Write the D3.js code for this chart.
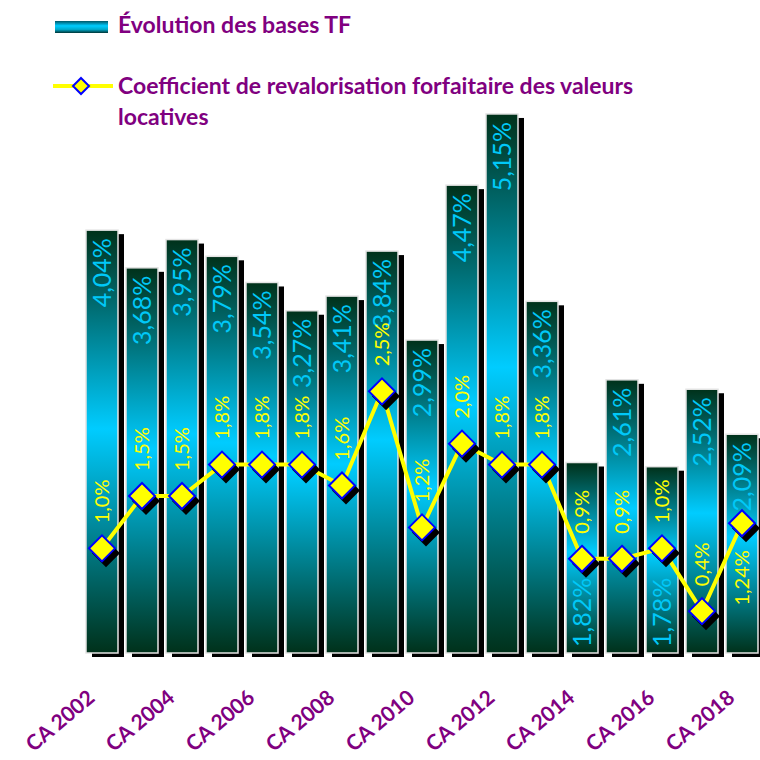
<!DOCTYPE html>
<html>
<head>
<meta charset="utf-8">
<script src="https://cdn.jsdelivr.net/npm/d3@7"></script>
<style>
  body { margin: 0; background: #fff; }
  svg { display: block; font-family: Lato, "Open Sans", sans-serif; }
</style>
</head>
<body>
<script>
// Data
const categories = ["CA 2002", "CA 2003", "CA 2004", "CA 2005", "CA 2006", "CA 2007", "CA 2008",
  "CA 2009", "CA 2010", "CA 2011", "CA 2012", "CA 2013", "CA 2014", "CA 2015", "CA 2016",
  "CA 2017", "CA 2018"];
const bases = [4.04, 3.68, 3.95, 3.79, 3.54, 3.27, 3.41, 3.84, 2.99, 4.47, 5.15, 3.36, 1.82, 2.61, 1.78, 2.52, 2.09];
const coefs = [1.0, 1.5, 1.5, 1.8, 1.8, 1.8, 1.6, 2.5, 1.2, 2.0, 1.8, 1.8, 0.9, 0.9, 1.0, 0.4, 1.24];
const tickLabels = ["CA 2002", "CA 2004", "CA 2006", "CA 2008", "CA 2010", "CA 2012", "CA 2014", "CA 2016", "CA 2018"];
const seriesNames = ["Évolution des bases TF", "Coefficient de revalorisation forfaitaire des valeurs", "locatives"];
const coefLabelBelow = ["CA 2018"];

const width = 760, height = 760;
const purple = "#800080";

const svg = d3.select("body").append("svg")
  .attr("width", width)
  .attr("height", height);

// Gradients
const defs = svg.append("defs");
const grad = defs.append("linearGradient")
  .attr("id", "barGrad")
  .attr("x1", 0).attr("y1", 0).attr("x2", 0).attr("y2", 1);
grad.append("stop").attr("offset", "0%").attr("stop-color", "#00311a");
grad.append("stop").attr("offset", "47%").attr("stop-color", "#00ccff");
grad.append("stop").attr("offset", "100%").attr("stop-color", "#00311a");

const legGrad = defs.append("linearGradient")
  .attr("id", "legGrad")
  .attr("x1", 0).attr("y1", 0).attr("x2", 0).attr("y2", 1);
legGrad.append("stop").attr("offset", "0%").attr("stop-color", "#005566");
legGrad.append("stop").attr("offset", "40%").attr("stop-color", "#00ccff");
legGrad.append("stop").attr("offset", "70%").attr("stop-color", "#00aacc");
legGrad.append("stop").attr("offset", "100%").attr("stop-color", "#003333");

// Scales
const x = d3.scaleBand()
  .domain(categories)
  .range([82, 762])
  .paddingInner(0.2)
  .paddingOuter(0.1);

const y = d3.scaleLinear()
  .domain([0, 6])
  .range([653, 25]);

const fr = d3.formatLocale({ decimal: ",", thousands: " ", grouping: [3], currency: ["", "€"] });
const f2 = fr.format(".2f");
const f1 = fr.format(".1f");
const fmtCoef = (v) => (Math.abs(v * 10 - Math.round(v * 10)) < 1e-9 ? f1(v) : f2(v)) + "%";
const fmtBase = (v) => f2(v) + "%";

const cx = (d) => x(d) + x.bandwidth() / 2;

// Bar shadows
svg.append("g")
  .selectAll("rect")
  .data(categories)
  .join("rect")
  .attr("x", (d) => x(d) + 6)
  .attr("y", (d, i) => y(bases[i]) + 4)
  .attr("width", x.bandwidth())
  .attr("height", (d, i) => y(0) - y(bases[i]))
  .attr("fill", "#000");

// Bars
svg.append("g")
  .selectAll("rect")
  .data(categories)
  .join("rect")
  .attr("x", (d) => x(d))
  .attr("y", (d, i) => y(bases[i]))
  .attr("width", x.bandwidth())
  .attr("height", (d, i) => y(0) - y(bases[i]))
  .attr("fill", "url(#barGrad)")
  .attr("stroke", "#e4e4e4")
  .attr("stroke-width", 1.5);

// Bar value labels (rotated, inside)
svg.append("g")
  .selectAll("text")
  .data(categories)
  .join("text")
  .attr("transform", (d, i) => {
    const atBase = bases[i] < 2;
    const ty = atBase ? y(0) - 6 : y(bases[i]) + 8;
    return `translate(${cx(d)},${ty}) rotate(-90)`;
  })
  .attr("text-anchor", (d, i) => (bases[i] < 2 ? "start" : "end"))
  .attr("dy", "0.36em")
  .attr("fill", "#00c8f8")
  .attr("font-size", 25)
  .text((d, i) => fmtBase(bases[i]));

// Line
const line = d3.line()
  .x((d, i) => cx(categories[i]))
  .y((d) => y(d));

svg.append("path")
  .datum(coefs)
  .attr("d", line)
  .attr("fill", "none")
  .attr("stroke", "#ffff00")
  .attr("stroke-width", 4)
  .attr("stroke-linejoin", "round");

// Markers
const diamond = (r) => `M0,${-r}L${r},0L0,${r}L${-r},0Z`;
const markers = svg.append("g");
markers.selectAll("path.shadow")
  .data(coefs)
  .join("path")
  .attr("class", "shadow")
  .attr("d", diamond(14))
  .attr("transform", (d, i) => `translate(${cx(categories[i]) + 4},${y(d) + 5})`)
  .attr("fill", "#000");
markers.selectAll("path.mark")
  .data(coefs)
  .join("path")
  .attr("class", "mark")
  .attr("d", diamond(13))
  .attr("transform", (d, i) => `translate(${cx(categories[i])},${y(d)})`)
  .attr("fill", "#ffff00")
  .attr("stroke", "#0000ff")
  .attr("stroke-width", 2);

// Line value labels
svg.append("g")
  .selectAll("text")
  .data(coefs)
  .join("text")
  .attr("transform", (d, i) => {
    const below = coefLabelBelow.includes(categories[i]);
    return `translate(${cx(categories[i])},${y(d) + (below ? 27 : -25)}) rotate(-90)`;
  })
  .attr("text-anchor", (d, i) => (coefLabelBelow.includes(categories[i]) ? "end" : "start"))
  .attr("dy", "0.36em")
  .attr("fill", "#ffff00")
  .attr("font-size", 20)
  .text((d) => fmtCoef(d));

// X axis labels
const xAxis = d3.axisBottom(x)
  .tickValues(tickLabels)
  .tickSize(0)
  .tickPadding(0);

const gx = svg.append("g")
  .attr("transform", `translate(0,${y(0)})`)
  .call(xAxis);
gx.select(".domain").remove();
gx.selectAll("text")
  .attr("fill", purple)
  .attr("font-size", 21)
  .attr("font-weight", "bold")
  .attr("font-family", "Lato, sans-serif")
  .attr("text-anchor", "end")
  .attr("dy", 0)
  .attr("y", 0)
  .attr("transform", "translate(-6,47) rotate(-40)");

// Legend
const legend = svg.append("g");
legend.append("rect")
  .attr("x", 55).attr("y", 21)
  .attr("width", 53).attr("height", 12)
  .attr("fill", "url(#legGrad)");
legend.append("text")
  .attr("x", 118).attr("y", 33)
  .attr("fill", purple)
  .attr("font-size", 23)
  .attr("font-weight", "bold")
  .text(seriesNames[0]);

legend.append("line")
  .attr("x1", 53).attr("x2", 113)
  .attr("y1", 86).attr("y2", 86)
  .attr("stroke", "#ffff00")
  .attr("stroke-width", 4);
legend.append("path")
  .attr("d", diamond(8))
  .attr("transform", "translate(81,86)")
  .attr("fill", "#ffff00")
  .attr("stroke", "#0000ff")
  .attr("stroke-width", 2);
legend.append("text")
  .attr("x", 118).attr("y", 94)
  .attr("fill", purple)
  .attr("font-size", 23)
  .attr("font-weight", "bold")
  .text(seriesNames[1]);
legend.append("text")
  .attr("x", 118).attr("y", 125)
  .attr("fill", purple)
  .attr("font-size", 23)
  .attr("font-weight", "bold")
  .text(seriesNames[2]);
</script>
</body>
</html>
